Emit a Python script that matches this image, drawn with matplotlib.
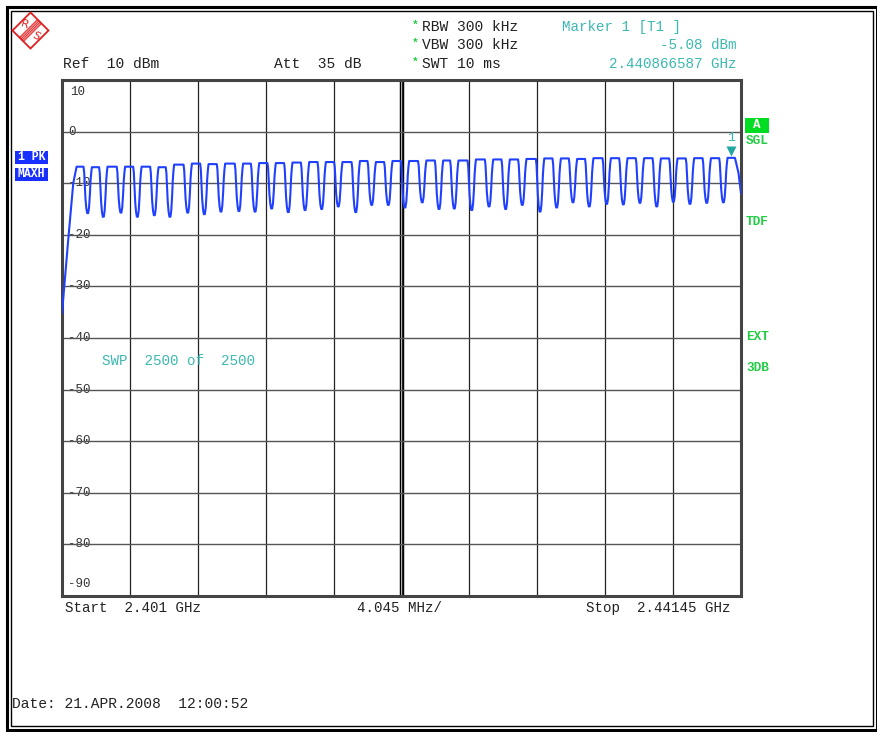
import matplotlib
matplotlib.use("Agg")
import matplotlib.pyplot as plt
import matplotlib.patches as patches
import matplotlib.transforms as mtransforms
import numpy as np

# Sweep settings (MHz, dBm)
start_mhz = 2401.0
stop_mhz = 2441.45
ref_dbm = 10
bottom_dbm = -90

# Trace: channel gaps (dips) and the plateaus between them
dip_mhz = [2402.53, 2403.46, 2404.51, 2405.49, 2406.50, 2407.43, 2408.49, 2409.48,
           2410.47, 2411.54, 2412.50, 2413.49, 2414.48, 2415.48, 2416.47, 2417.46,
           2418.50, 2419.45, 2420.44, 2421.43, 2422.46, 2423.46, 2424.37, 2425.41,
           2426.44, 2427.43, 2428.42, 2429.48, 2430.47, 2431.44, 2432.41, 2433.45,
           2434.44, 2435.43, 2436.43, 2437.42, 2438.41, 2439.41, 2440.40]
dip_dbm = [-15.8, -16.5, -15.7, -16.5, -16.2, -16.5, -15.7, -16.0, -15.5, -15.4,
           -15.5, -14.9, -15.6, -15.2, -15.0, -14.5, -15.6, -14.2, -14.2, -14.7,
           -13.7, -15.0, -14.9, -15.2, -14.5, -15.0, -14.2, -15.5, -14.7, -13.7,
           -14.5, -14.0, -14.1, -13.8, -14.5, -13.6, -14.0, -13.8, -13.7]
peak_dbm = [-6.8, -6.9, -6.8, -6.8, -6.8, -6.9, -6.4, -6.2, -6.3, -6.2,
            -6.2, -6.1, -6.1, -6.0, -5.9, -5.9, -5.9, -5.7, -5.9, -5.7,
            -5.7, -5.6, -5.6, -5.6, -5.4, -5.4, -5.4, -5.3, -5.2, -5.2,
            -5.3, -5.15, -5.15, -5.15, -5.15, -5.2, -5.2, -5.15, -5.15, -5.08]
# sweep start edge and stop edge
rise_mhz = [2401.0, 2401.37, 2401.67, 2401.87]
rise_dbm = [-35.2, -21.0, -10.0, -6.8]
fall_mhz = [2441.09, 2441.30, 2441.45]
fall_dbm = [-5.1, -8.0, -12.0]

marker_mhz = 2440.866587
marker_dbm = -5.08

# shape of one channel gap (offset in MHz, fraction between dip and plateau)
edge_off = [-0.25, -0.21, -0.17, -0.13, -0.08, -0.03, 0.03, 0.08, 0.13, 0.17, 0.21, 0.25]
edge_frac = [1.0, 0.88, 0.6, 0.3, 0.1, 0.0, 0.0, 0.12, 0.4, 0.7, 0.88, 1.0]

# build trace
tr_x = list(rise_mhz)
tr_y = list(rise_dbm)
for k in range(len(dip_mhz)):
    for off, fr in zip(edge_off, edge_frac):
        p = peak_dbm[k] if off < 0 else peak_dbm[k + 1]
        tr_x.append(dip_mhz[k] + off)
        tr_y.append(dip_dbm[k] + fr * (p - dip_dbm[k]))
tr_x += fall_mhz
tr_y += fall_dbm

W, H = 878, 732
FONT = "Liberation Mono"
TXT = "#222222"
TEAL = "#3cb9b1"
GREEN = "#22cc44"
BLUE = "#2040ff"

fig = plt.figure(figsize=(W / 100, H / 100), dpi=100)
fig.patch.set_facecolor("white")

# full-figure overlay in pixel coordinates for the frame and the annotations
over = fig.add_axes([0, 0, 1, 1])
over.set_xlim(0, W)
over.set_ylim(H, 0)
over.axis("off")

over.add_patch(patches.Rectangle((7, 7), W - 8, H - 9, fill=False, lw=2.2, ec="black"))
over.add_patch(patches.Rectangle((11, 11), W - 16, H - 17, fill=False, lw=1.0, ec="black"))

# R&S logo
cx, cy, r = 30.5, 30.5, 18
over.add_patch(patches.Polygon([(cx, cy - r), (cx + r, cy), (cx, cy + r), (cx - r, cy)],
                               closed=True, fill=False, ec="#e02020", lw=1.3))
for d in np.linspace(-3, 3, 6):
    over.plot([cx + 9 + d * 0.707, cx - 9 + d * 0.707], [cy - 9 + d * 0.707, cy + 9 + d * 0.707],
              color="#e02020", lw=0.6)
over.text(cx - 5.5, cy - 6, "R", color="#e02020", fontsize=8, family="DejaVu Sans",
          ha="center", va="center", rotation=-20)
over.text(cx + 5.5, cy + 6, "S", color="#e02020", fontsize=8, family="DejaVu Sans",
          ha="center", va="center", rotation=-30)

# header
hs = 10.5
over.text(63, 64, "Ref  10 dBm", family=FONT, fontsize=hs, color=TXT, va="center")
over.text(274, 64, "Att  35 dB", family=FONT, fontsize=hs, color=TXT, va="center")
for yy, s in [(27, "RBW 300 kHz"), (45, "VBW 300 kHz"), (64, "SWT 10 ms")]:
    over.text(412, yy - 2, "*", family=FONT, fontsize=8, color=GREEN, va="center",
              fontweight="bold")
    over.text(422, yy, s, family=FONT, fontsize=hs, color=TXT, va="center")
over.text(562, 27, "Marker 1 [T1 ]", family=FONT, fontsize=10.3, color=TEAL, va="center")
over.text(737, 45, "-5.08 dBm", family=FONT, fontsize=10.3, color=TEAL, va="center", ha="right")
over.text(737, 64, "2.440866587 GHz", family=FONT, fontsize=10.3, color=TEAL, va="center",
          ha="right")

# trace boxes on the left
for yy, s in [(157, "1 PK"), (174, "MAXH")]:
    over.add_patch(patches.Rectangle((15, yy - 6.5), 33, 13, color="#1830ff", lw=0))
    over.text(31.5, yy, s, family=FONT, fontsize=8.3, color="white", fontweight="bold",
              ha="center", va="center")

# status labels on the right
over.add_patch(patches.Rectangle((745, 118), 24, 15, color="#00dd22", lw=0))
over.text(757, 125.5, "A", family=FONT, fontsize=9, color="white", fontweight="bold",
          ha="center", va="center")
for yy, s in [(141, "SGL"), (222, "TDF"), (337, "EXT"), (368, "3DB")]:
    over.text(746, yy, s, family=FONT, fontsize=9.2, color=GREEN, fontweight="bold",
              va="center")

# footer
over.text(65, 608, "Start  2.401 GHz", family=FONT, fontsize=10.2, color=TXT, va="center")
over.text(400, 608, "%.3f MHz/" % ((stop_mhz - start_mhz) / 10), family=FONT, fontsize=10.2,
          color=TXT, va="center", ha="center")
over.text(731, 608, "Stop  2.44145 GHz", family=FONT, fontsize=10.2, color=TXT, va="center",
          ha="right")
over.text(12, 704, "Date: 21.APR.2008  12:00:52", family=FONT, fontsize=10.5, color=TXT,
          va="center")

# measurement screen
ax = fig.add_axes([62 / W, 1 - 596 / H, 679 / W, 516 / H])
ax.set_xlim(start_mhz, stop_mhz)
ax.set_ylim(bottom_dbm, ref_dbm)
grid_x = np.linspace(start_mhz, stop_mhz, 11)
grid_y = np.arange(bottom_dbm, ref_dbm + 1, 10)
ax.set_xticks(grid_x)
ax.set_yticks(grid_y)
ax.tick_params(length=0, labelbottom=False, labelleft=False)
ax.xaxis.grid(True, color="#222222", lw=0.9)
ax.yaxis.grid(True, color="#555555", lw=1.0)
center = grid_x[5]
ax.axvline(center, color="black", lw=3.2, zorder=1)
ax.axvline(center, color="white", lw=1.1, zorder=1.1)
for sp in ax.spines.values():
    sp.set_color("#444444")
    sp.set_linewidth(2.2)

ytr = ax.get_yaxis_transform()
for v in grid_y:
    if v == ref_dbm:
        ax.text(0.012, v - 1.2, "%d" % v, transform=ytr, family=FONT, fontsize=9, color="#333333",
                va="top", ha="left")
    elif v == bottom_dbm:
        ax.text(0.009, v + 1.2, "%d" % v, transform=ytr, family=FONT, fontsize=9, color="#333333",
                va="bottom", ha="left")
    else:
        ax.text(0.009, v, "%d" % v, transform=ytr, family=FONT, fontsize=9, color="#333333",
                va="center", ha="left", zorder=1.5,
                bbox=dict(facecolor="white", edgecolor="none", pad=0.6))

ax.text(0.059, 0.455, "SWP  2500 of  2500", transform=ax.transAxes, family=FONT, fontsize=10.3,
        color=TEAL, va="center")

ax.plot(tr_x, tr_y, color=BLUE, lw=1.5, zorder=3)

# marker 1
up = mtransforms.ScaledTranslation(0, 5 / 72, fig.dpi_scale_trans)
ax.plot([marker_mhz], [marker_dbm], marker="v", color="#20a8a0", ms=7, mec="none",
        transform=ax.transData + up, zorder=4)
ax.annotate("1", (marker_mhz, marker_dbm), xytext=(0, 14), textcoords="offset points",
            family=FONT, fontsize=9.5, color=TEAL, ha="center", va="center")

fig.savefig("out.png", dpi=100, facecolor="white")
